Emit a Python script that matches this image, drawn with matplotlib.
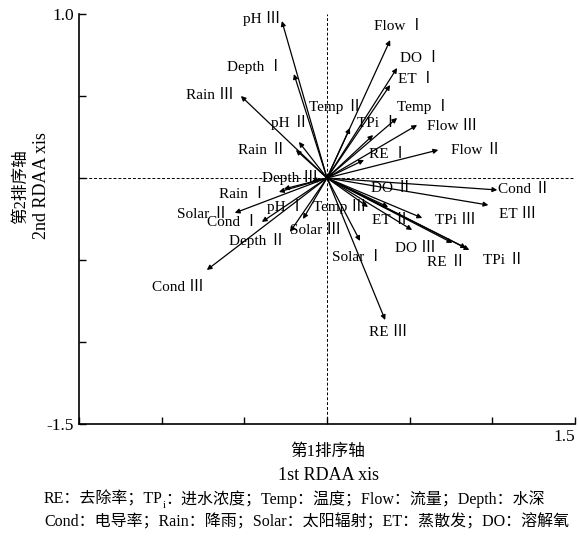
import matplotlib
matplotlib.use('Agg')
import matplotlib.pyplot as plt

plt.rcParams['font.family'] = ['Liberation Serif', 'Noto Sans CJK SC', 'DejaVu Sans']

# RDA arrow tips (axis 1, axis 2)
names = ['pH Ⅲ', 'Depth Ⅰ', 'Temp Ⅱ', 'Rain Ⅲ', 'pH Ⅱ', 'Rain Ⅱ', 'Depth Ⅲ', 'Rain Ⅰ',
         'Depth Ⅱ', 'Solar Ⅱ', 'Cond Ⅰ', 'Cond Ⅲ', 'Solar Ⅲ', 'pH Ⅰ', 'Flow Ⅰ', 'DO Ⅰ',
         'ET Ⅰ', 'Temp Ⅰ', 'TPi Ⅰ', 'Flow Ⅲ', 'Flow Ⅱ', 'RE Ⅰ', 'Cond Ⅱ', 'ET Ⅲ',
         'Temp Ⅲ', 'DO Ⅱ', 'ET Ⅱ', 'TPi Ⅲ', 'DO Ⅲ', 'RE Ⅱ', 'TPi Ⅱ', 'Solar Ⅰ', 'RE Ⅲ']
ax1 = [-0.273, -0.200, 0.139, -0.521, -0.170, -0.188, -0.091, -0.291,
       -0.261, -0.558, -0.394, -0.727, -0.224, -0.145, 0.382, 0.424,
       0.382, 0.424, 0.279, 0.545, 0.673, 0.224, 1.030, 0.976,
       0.248, 0.370, 0.515, 0.576, 0.758, 0.842, 0.861, 0.200, 0.352]
ax2 = [0.957, 0.634, 0.305, 0.500, 0.220, 0.171, -0.018, -0.085,
       -0.067, -0.213, -0.268, -0.561, -0.329, -0.250, 0.841, 0.671,
       0.567, 0.366, 0.262, 0.323, 0.171, 0.110, -0.073, -0.165,
       -0.177, -0.177, -0.317, -0.244, -0.396, -0.427, -0.439, -0.384, -0.866]

# where each label sits
lab_x = [-0.394, -0.436, 0.055, -0.709, -0.224, -0.394, -0.224, -0.509,
         -0.424, -0.752, -0.570, -0.903, -0.067, -0.248, 0.436, 0.564,
         0.545, 0.588, 0.303, 0.758, 0.903, 0.370, 1.194, 1.152,
         0.079, 0.388, 0.388, 0.776, 0.533, 0.721, 1.067, 0.188, 0.370]
lab_y = [0.970, 0.677, 0.439, 0.506, 0.341, 0.165, 0.006, -0.098,
         -0.384, -0.220, -0.274, -0.665, -0.323, -0.171, 0.921, 0.726,
         0.598, 0.439, 0.335, 0.317, 0.165, 0.146, -0.073, -0.220,
         -0.171, -0.067, -0.262, -0.262, -0.427, -0.518, -0.506, -0.482, -0.945]

fig = plt.figure(figsize=(5.79, 5.38), dpi=100)
ax = fig.add_axes([79/579, 1-424/538, 496/579, 410/538])
ax.set_xlim(-1.5, 1.5)
ax.set_ylim(-1.5, 1.0)

ax.plot([-1.5, 1.5], [0, 0], ls=(0, (3, 2)), color='black', lw=0.7)
ax.plot([0, 0], [-1.5, 1.0], ls=(0, (3, 2)), color='black', lw=0.7)

for i in range(len(names)):
    ax.annotate('', xy=(ax1[i], ax2[i]), xytext=(0, 0),
                arrowprops=dict(arrowstyle='-|>', color='black', lw=0.9,
                                mutation_scale=7, shrinkA=0, shrinkB=0))
    ax.text(lab_x[i], lab_y[i], names[i], fontsize=11, ha='center', va='center')

ax.spines['top'].set_visible(False)
ax.spines['right'].set_visible(False)
ax.spines['left'].set_linewidth(1.2)
ax.spines['bottom'].set_linewidth(1.2)
ax.set_xticks([-1.5, -1.0, -0.5, 0, 0.5, 1.0, 1.5])
ax.set_xticklabels([])
ax.set_yticks([-1.5, -1.0, -0.5, 0, 0.5, 1.0])
ax.set_yticklabels(['-1.5', '', '', '', '', '1.0'], fontsize=12.5)
ax.tick_params(direction='in', length=5, width=1.0)
ax.text(1.5, -1.53, '1.5', fontsize=12.5, ha='right', va='top')

fig.text(21/579, 1-187/538, '第2排序轴', rotation=90, fontsize=12, ha='center', va='center')
fig.text(42/579, 1-186/538, '2nd RDAA xis', rotation=90, fontsize=13, ha='center', va='center')
fig.text(328/579, 1-452/538, '第1排序轴', fontsize=12, ha='center', va='center')
fig.text(328/579, 1-476/538, '1st RDAA xis', fontsize=13, ha='center', va='center')

# caption, line 1 has a subscript i after TP
fig.canvas.draw()
r = fig.canvas.get_renderer()
t1 = fig.text(44/579, 1-499/538, 'RE：去除率；TP', fontsize=11.5, ha='left', va='center')
bb = t1.get_window_extent(renderer=r)
t2 = fig.text(bb.x1/579, 1-505/538, 'i', fontsize=7.5, ha='left', va='center')
bb2 = t2.get_window_extent(renderer=r)
fig.text(bb2.x1/579, 1-499/538, '：进水浓度；Temp：温度；Flow：流量；Depth：水深',
         fontsize=11.5, ha='left', va='center')
fig.text(44/579, 1-522/538, 'Cond：电导率；Rain：降雨；Solar：太阳辐射；ET：蒸散发；DO：溶解氧',
         fontsize=11.5, ha='left', va='center')

fig.savefig('out.png', dpi=100)
